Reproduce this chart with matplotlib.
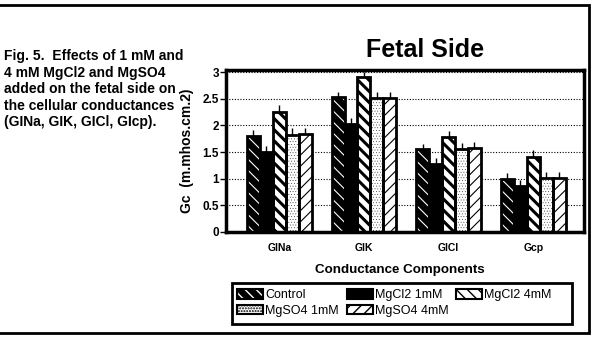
import matplotlib
matplotlib.use("Agg")
import matplotlib.pyplot as plt
import numpy as np
from matplotlib.patches import Rectangle

plt.rcParams['font.family'] = ['Liberation Sans', 'DejaVu Sans']

categories = ["GINa", "GIK", "GICl", "Gcp"]
series_names = ["Control", "MgCl2 1mM", "MgCl2 4mM", "MgSO4 1mM", "MgSO4 4mM"]
control = [1.80, 2.53, 1.55, 1.00]
mgcl2_1 = [1.50, 2.02, 1.27, 0.87]
mgcl2_4 = [2.26, 2.90, 1.79, 1.41]
mgso4_1 = [1.82, 2.51, 1.55, 1.01]
mgso4_4 = [1.83, 2.51, 1.57, 1.01]
control_err = [0.12, 0.10, 0.11, 0.10]
mgcl2_1_err = [0.11, 0.11, 0.12, 0.11]
mgcl2_4_err = [0.12, 0.11, 0.11, 0.13]
mgso4_1_err = [0.13, 0.11, 0.12, 0.11]
mgso4_4_err = [0.13, 0.11, 0.12, 0.11]
yticks = [0, 0.5, 1, 1.5, 2, 2.5, 3]
ytick_labels = ["0", "0.5", "1", "1.5", "2", "2.5", "3"]
caption = ["Fig. 5.  Effects of 1 mM and", "4 mM MgCl2 and MgSO4",
           "added on the fetal side on", "the cellular conductances",
           "(GINa, GIK, GICl, GIcp)."]

values = [control, mgcl2_1, mgcl2_4, mgso4_1, mgso4_4]
errors = [control_err, mgcl2_1_err, mgcl2_4_err, mgso4_1_err, mgso4_4_err]
# face, hatch, hatch colour, hatch linewidth
styles = [("black", "\\\\\\", "white", 0.8),
          ("black", None, "black", 1.0),
          ("white", "\\\\\\", "black", 2.2),
          ("white", "......", "black", 0.2),
          ("white", "///", "black", 0.8)]

W, H = 593, 338
fig = plt.figure(figsize=(W / 100, H / 100), dpi=100)

def px(x, y):
    return x / W, 1 - y / H

# outer chart frame (left edge runs off the picture)
fig.patches.append(Rectangle(px(-10, 333), (589 + 10) / W, (333 - 5) / H,
                             transform=fig.transFigure, fill=False,
                             edgecolor="black", lw=2))
# legend box
fig.patches.append(Rectangle(px(232, 324), (572 - 232) / W, (324 - 283) / H,
                             transform=fig.transFigure, fill=False,
                             edgecolor="black", lw=2))

ax = fig.add_axes([226 / W, 1 - 232 / H, (584 - 226) / W, (232 - 70) / H])

x = np.arange(len(categories))
bw = 0.153
handles = []
for i in range(5):
    face, hatch, hcol, hlw = styles[i]
    xs = x + (i - 2) * bw
    with plt.rc_context({'hatch.linewidth': hlw}):
        ax.bar(xs, values[i], bw, color=face, hatch=hatch, edgecolor=hcol,
               lw=0, zorder=2)
        lp = Rectangle((0, 0), 1, 1, facecolor=face, hatch=hatch, edgecolor=hcol, lw=0)
    ax.bar(xs, values[i], bw, fill=False, edgecolor="black", lw=2, zorder=3)
    lo = Rectangle((0, 0), 1, 1, fill=False, edgecolor="black", lw=1.5)
    ax.errorbar(xs, values[i], yerr=[np.zeros(4), errors[i]], fmt="none",
                ecolor="black", elinewidth=1, capsize=0, zorder=4, clip_on=False)
    handles.append((lp, lo))

ax.set_xlim(-0.63, 3.6)
ax.set_ylim(0, 3.04)
ax.set_yticks(yticks)
ax.set_yticklabels(ytick_labels, fontsize=8.5, fontweight="bold")
ax.set_xticks(x)
ax.set_xticklabels(categories, fontsize=7.5, fontweight="bold")
ax.tick_params(axis="x", length=0, pad=8)
ax.tick_params(axis="y", length=4, width=1, direction="out", pad=1)
ax.set_axisbelow(True)
ax.yaxis.grid(True, linestyle=(0, (1, 1.5)), color="black", lw=0.8)
for s in ax.spines.values():
    s.set_linewidth(2.5)

fig.text(*px(425, 50), "Fetal Side", ha="center", va="center",
         fontsize=18, fontweight="bold")
fig.text(*px(187, 151), "Gc  (m.mhos.cm.2)", ha="center", va="center",
         rotation=90, fontsize=10, fontweight="bold")
fig.text(*px(400, 270), "Conductance Components", ha="center", va="center",
         fontsize=9.6, fontweight="bold")
for k, line in enumerate(caption):
    fig.text(*px(4, 56 + 16.5 * k), line, ha="left", va="center",
             fontsize=10, fontweight="bold")

order = [0, 3, 1, 4, 2]
leg = fig.legend([handles[k] for k in order], [series_names[k] for k in order],
                 ncol=3, loc="upper left", bbox_to_anchor=px(232, 284),
                 bbox_transform=fig.transFigure, fontsize=9, frameon=False,
                 handlelength=2.08, handleheight=0.8,
                 handletextpad=0.16, columnspacing=0.64, borderpad=0.4,
                 labelspacing=0.3, borderaxespad=0)

fig.savefig("out.png", dpi=100)
